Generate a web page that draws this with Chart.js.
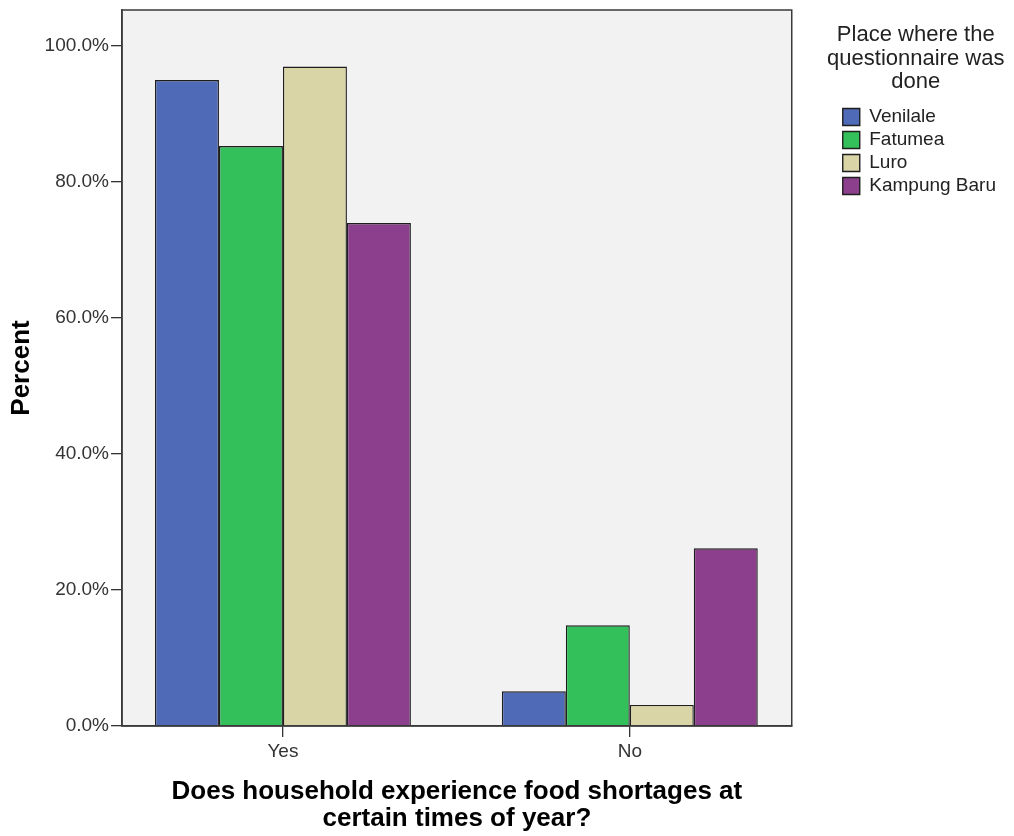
<!DOCTYPE html>
<html>
<head>
<meta charset="utf-8">
<script src="https://cdn.jsdelivr.net/npm/chart.js@4.4.1/dist/chart.umd.min.js"></script>
<style>
  body { margin: 0; background: #fff; }
  #wrap { width: 1014px; height: 836px; }
</style>
</head>
<body>
<div id="wrap"><canvas id="myChart"></canvas></div>
<script>
// values (percent within each place)
const categories = ['Yes', 'No']
const places = ['Venilale', 'Fatumea', 'Luro', 'Kampung Baru']
const venilale = [94.9, 5.1]
const fatumea = [85.2, 14.8]
const luro = [96.9, 3.1]
const kampungBaru = [73.9, 26.1]
const yTicks = [0, 20, 40, 60, 80, 100]
const colors = ['#4f6bb7', '#33bf59', '#d9d5a7', '#8b3f8c']
const legendTitle = ['Place where the', 'questionnaire was', 'done']

const series = [venilale, fatumea, luro, kampungBaru]
const font = "'Liberation Sans', Arial, sans-serif"

// grey plot background, frame, and the legend heading
const plotFrame = {
  id: 'plotFrame',
  beforeDraw(chart) {
    const { ctx, chartArea: a } = chart
    ctx.save()
    ctx.fillStyle = '#f2f2f2'
    ctx.fillRect(a.left, a.top, a.right - a.left, a.bottom - a.top)
    ctx.restore()
  },
  afterDatasetsDraw(chart) {
    const { ctx, chartArea: a } = chart
    ctx.save()
    ctx.strokeStyle = '#3a3a3a'
    ctx.lineWidth = 1.5
    ctx.strokeRect(a.left, a.top, a.right - a.left, a.bottom - a.top)
    ctx.restore()
  },
  afterLayout(chart) {
    // leave a gap between plot and legend, room above for the heading
    const lg = chart.legend
    lg.left = chart.chartArea.right + 47
    lg.right = chart.width
    lg.width = lg.right - lg.left
    lg.top = 103.5
  },
  afterDraw(chart) {
    const { ctx } = chart
    const cx = chart.legend.left + 77
    ctx.save()
    ctx.font = '22px ' + font
    ctx.fillStyle = '#222'
    ctx.textAlign = 'center'
    ctx.textBaseline = 'middle'
    legendTitle.forEach((t, i) => ctx.fillText(t, cx, 35 + i * 23.5))
    ctx.restore()
  }
}

const chart = new Chart('myChart', {
  type: 'bar',
  data: {
    datasets: places.map((p, i) => ({
      label: p,
      data: categories.map((c, j) => ({ x: j, y: series[i][j] })),
      backgroundColor: colors[i],
      borderColor: '#1e1e1e',
      borderWidth: 1.4,
      categoryPercentage: 0.7378,
      barPercentage: 1
    }))
  },
  options: {
    responsive: true,
    maintainAspectRatio: false,
    animation: false,
    layout: { padding: { top: 10, right: 55, bottom: 0, left: 0 } },
    scales: {
      x: {
        type: 'linear',
        offset: false,
        min: -0.464,
        max: 1.4669,
        afterBuildTicks: s => { s.ticks = categories.map((c, j) => ({ value: j })) },
        afterFit: s => { s.height = 110; s.paddingLeft = 0; s.paddingRight = 0 },
        ticks: {
          callback: v => categories[v],
          font: { family: font, size: 19 },
          color: '#333',
          padding: 3,
          maxRotation: 0
        },
        grid: { offset: false, drawOnChartArea: false, tickLength: 11, color: '#333', lineWidth: 1.3 },
        border: { color: '#3a3a3a', width: 1.5 },
        title: {
          display: true,
          text: ['Does household experience food shortages at', 'certain times of year?'],
          font: { family: font, size: 26, weight: 'bold', lineHeight: 1.04 },
          color: '#000',
          padding: { top: 0, bottom: 3.5 }
        }
      },
      y: {
        min: 0,
        max: 105.2,
        afterBuildTicks: s => { s.ticks = yTicks.map(v => ({ value: v })) },
        afterFit: s => { s.width = 122; s.paddingTop = 0; s.paddingBottom = 0 },
        ticks: {
          callback: v => v.toFixed(1) + '%',
          font: { family: font, size: 19 },
          color: '#333',
          padding: 2
        },
        grid: { drawOnChartArea: false, tickLength: 11, color: '#333', lineWidth: 1.3 },
        border: { color: '#3a3a3a', width: 1.5 },
        title: {
          display: true,
          text: 'Percent',
          font: { family: font, size: 26, weight: 'bold', lineHeight: 1.2 },
          color: '#000',
          padding: { top: 6.4, bottom: 0 }
        }
      }
    },
    plugins: {
      tooltip: { enabled: false },
      legend: {
        position: 'right',
        align: 'start',
        labels: {
          boxWidth: 17,
          boxHeight: 17,
          padding: 4,
          color: '#222',
          font: { family: font, size: 19 }
        }
      }
    }
  },
  plugins: [plotFrame]
})
</script>
</body>
</html>
